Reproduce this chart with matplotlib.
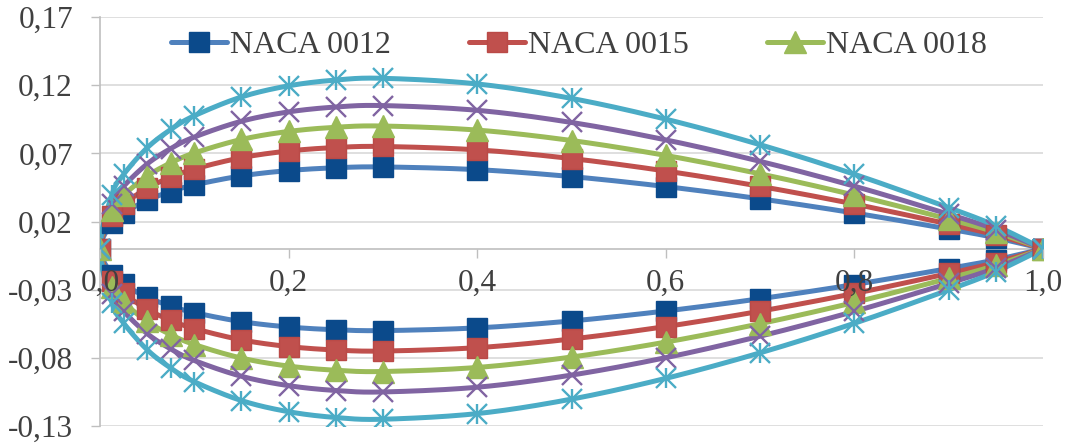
import numpy as np
import matplotlib
matplotlib.use("Agg")
import matplotlib.pyplot as plt
from matplotlib.lines import Line2D

# Chord stations (x/c)
x_stations = [0.0, 0.0125, 0.025, 0.05, 0.075, 0.10, 0.15, 0.20, 0.25, 0.30,
              0.40, 0.50, 0.60, 0.70, 0.80, 0.90, 0.95, 1.0]

# Upper-surface half thickness (y/c) for each section; the sections are symmetric
naca0012 = [0.0, 0.01894, 0.02615, 0.03555, 0.04200, 0.04683, 0.05345, 0.05737, 0.05941,
            0.06002, 0.05803, 0.05294, 0.04563, 0.03664, 0.02623, 0.01448, 0.00807, 0.0]
naca0015 = [0.0, 0.02367, 0.03268, 0.04443, 0.05250, 0.05853, 0.06681, 0.07172, 0.07427,
            0.07502, 0.07254, 0.06617, 0.05704, 0.04580, 0.03279, 0.01810, 0.01008, 0.0]
naca0018 = [0.0, 0.02841, 0.03922, 0.05332, 0.06300, 0.07024, 0.08018, 0.08606, 0.08912,
            0.09003, 0.08705, 0.07941, 0.06845, 0.05496, 0.03935, 0.02172, 0.01210, 0.0]
naca0021 = [0.0, 0.03315, 0.04576, 0.06221, 0.07350, 0.08195, 0.09354, 0.10040, 0.10397,
            0.10503, 0.10156, 0.09265, 0.07986, 0.06412, 0.04591, 0.02534, 0.01412, 0.0]
naca0025 = [0.0, 0.03946, 0.05448, 0.07406, 0.08750, 0.09756, 0.11135, 0.11952, 0.12377,
            0.12504, 0.12090, 0.11029, 0.09506, 0.07633, 0.05465, 0.03017, 0.01681, 0.0]

series_names = ["NACA 0012", "NACA 0015", "NACA 0018", "NACA 0021", "NACA 0025"]

y_ticks = [-0.13, -0.08, -0.03, 0.02, 0.07, 0.12, 0.17]
y_tick_labels = ["-0,13", "-0,08", "-0,03", "0,02", "0,07", "0,12", "0,17"]
x_ticks = [0.0, 0.2, 0.4, 0.6, 0.8, 1.0]
x_tick_labels = ["0,0", "0,2", "0,4", "0,6", "0,8", "1,0"]

plt.rcParams["font.family"] = ["Liberation Serif", "DejaVu Serif"]
TEXT = "#404040"
LW = 3.6


def smooth_path(px, py, n=24):
    """Catmull-Rom style Bezier smoothing through the given points."""
    P = np.column_stack([px, py]).astype(float)
    out = []
    m = len(P)
    for i in range(m - 1):
        p0 = P[i - 1] if i > 0 else P[i]
        p1 = P[i]
        p2 = P[i + 1]
        p3 = P[i + 2] if i + 2 < m else P[i + 1]
        c1 = p1 + (p2 - p0) / 6.0
        c2 = p2 - (p3 - p1) / 6.0
        t = np.linspace(0, 1, n, endpoint=(i == m - 2))[:, None]
        seg = ((1 - t) ** 3) * p1 + 3 * ((1 - t) ** 2) * t * c1 + 3 * (1 - t) * t ** 2 * c2 + t ** 3 * p2
        out.append(seg)
    out = np.vstack(out)
    return out[:, 0], out[:, 1]


fig = plt.figure(figsize=(10.71, 4.43), dpi=100)
ax = fig.add_axes([100 / 1071, 1 - 426 / 443, (1043 - 100) / 1071, (426 - 17) / 443])

styles = [
    dict(line="#4F81BD", marker="s", mfc="#0B4A8B", mec="#0B4A8B", ms=14, mew=1.0),
    dict(line="#C0504D", marker="s", mfc="#C0504D", mec="#BA4A47", ms=14, mew=1.0),
    dict(line="#9BBB59", marker="^", mfc="#9BBB59", mec="#9BBB59", ms=16, mew=1.0),
    dict(line="#8064A2", marker="x", mfc="none", mec="#8064A2", ms=14, mew=1.7),
    dict(line="#4BACC6", marker="star", mfc="none", mec="#4BACC6", ms=15, mew=1.7),
]

all_series = [naca0012, naca0015, naca0018, naca0021, naca0025]
xs = np.array(x_stations)

for vals, st in zip(all_series, styles):
    up = np.array(vals)
    lo = -up
    # closed contour: upper surface from trailing edge to nose, lower surface back
    cx = np.concatenate([xs[::-1], xs[1:]])
    cy = np.concatenate([up[::-1], lo[1:]])
    sx, sy = smooth_path(cx, cy)
    ax.plot(sx, sy, color=st["line"], lw=LW, solid_capstyle="round", zorder=3)
    if st["marker"] == "star":
        for mk in ("x", "|"):
            ax.plot(cx, cy, ls="none", marker=mk, ms=st["ms"], mec=st["mec"],
                    mew=st["mew"], zorder=4)
    else:
        ax.plot(cx, cy, ls="none", marker=st["marker"], ms=st["ms"], mfc=st["mfc"],
                mec=st["mec"], mew=st["mew"], zorder=4)

ax.set_xlim(0, 1.0)
ax.set_ylim(-0.13, 0.17)

ax.set_yticks(y_ticks)
ax.set_yticklabels(y_tick_labels)
ax.set_xticks(x_ticks)
ax.set_xticklabels(x_tick_labels)

ax.yaxis.grid(True, color="#D9D9D9", lw=1.2)
ax.set_axisbelow(True)
ax.xaxis.set_zorder(6)

for s in ("top", "right"):
    ax.spines[s].set_visible(False)
ax.spines["left"].set_color("#BFBFBF")
ax.spines["left"].set_linewidth(1.2)
ax.spines["bottom"].set_position(("data", 0.0))
ax.spines["bottom"].set_color("#BFBFBF")
ax.spines["bottom"].set_linewidth(1.2)
ax.spines["bottom"].set_zorder(1)

ax.tick_params(axis="y", direction="out", length=6.5, width=1.0, color="#BFBFBF",
               labelsize=22.5, labelcolor=TEXT, pad=13)
ax.tick_params(axis="x", direction="out", length=6.5, width=1.0, color="#BFBFBF",
               labelsize=22.5, labelcolor=TEXT, pad=8)

handles = []
for name, st in zip(series_names[:3], styles[:3]):
    handles.append(Line2D([0], [0], color=st["line"], lw=LW, marker=st["marker"],
                          ms=st["ms"], mfc=st["mfc"], mec=st["mec"], mew=st["mew"],
                          solid_capstyle="round", label=name))
leg = ax.legend(handles=handles, loc="center", bbox_to_anchor=(0.508, 0.93),
                ncol=3, frameon=False, fontsize=23, handlelength=1.75,
                handletextpad=0.1, columnspacing=2.45, numpoints=1,
                borderaxespad=0)
for t in leg.get_texts():
    t.set_color(TEXT)

fig.savefig("out.png", dpi=100)
